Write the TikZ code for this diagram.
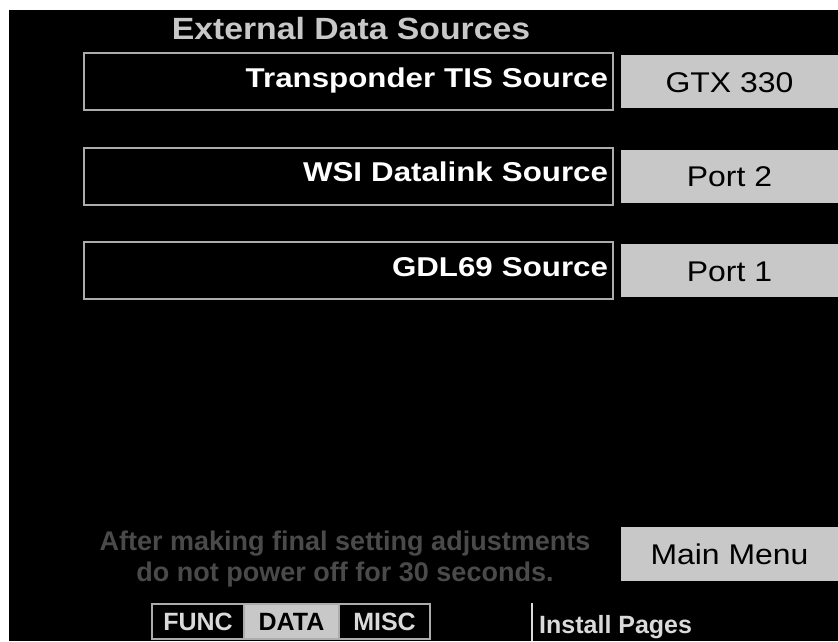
\documentclass[tikz,border=0pt]{standalone}
\usepackage{fontspec}
\setmainfont{Liberation Sans}
\newfontfamily\srcfont[FakeStretch=1.15]{Liberation Sans}
\newfontfamily\titlefont[FakeStretch=1.10]{Liberation Sans}
\newfontfamily\btnfont[FakeStretch=1.12]{Liberation Sans}
\usetikzlibrary{positioning}
\definecolor{panelgrey}{RGB}{200,200,200}
\definecolor{rimgrey}{RGB}{172,172,172}
\definecolor{notegrey}{RGB}{74,74,74}
\definecolor{tabtext}{RGB}{218,218,218}
\tikzset{
  srcbox/.style={draw=rimgrey, line width=2pt, minimum width=529pt, minimum height=57pt,
    text width=519pt, align=right, inner xsep=5pt, text=white,
    text height=19.5pt, text depth=8.5pt,
    font=\srcfont\bfseries\fontsize{27.2}{27.2}\selectfont},
  selbtn/.style={fill=panelgrey, minimum width=218pt, minimum height=53pt,
    text height=21pt, text depth=0pt,
    font=\btnfont\fontsize{28.5}{28.5}\selectfont},
  tabbox/.style={draw=rimgrey, line width=1.5pt, minimum height=35pt, outer sep=0pt,
    inner sep=0pt, text=tabtext, text height=18pt, text depth=0pt,
    font=\bfseries\fontsize{25}{25}\selectfont},
}
\begin{document}
\begin{tikzpicture}[x=1pt,y=-1pt]
\useasboundingbox (0,0) rectangle (838,641);
\fill[black] (9,10) rectangle (838,641);
% title
\node[anchor=base, inner sep=0pt, text=panelgrey, font=\titlefont\bfseries\fontsize{30.7}{30.7}\selectfont] (title) at (351,39) {External Data Sources};
% source rows
\node[srcbox] (tis) at (348.5,81.5) {Transponder TIS Source};
\node[selbtn] (tisval) at (729.5,81.5) {GTX 330};
\node[srcbox] (wsi) at (348.5,176) {WSI Datalink Source};
\node[selbtn] (wsival) at (729.5,176) {Port 2};
\node[srcbox] (gdl) at (348.5,270.5) {GDL69 Source};
\node[selbtn] (gdlval) at (729.5,270.5) {Port 1};
% bottom
\node[text=notegrey, align=center, font=\bfseries\fontsize{27}{31.5}\selectfont] (note) at (345,559)
  {After making final setting adjustments\\do not power off for 30 seconds.};
\node[selbtn, minimum height=54pt] (mainmenu) at (729.5,554) {Main Menu};
\node[tabbox, minimum width=92pt] (func) at (198,621.5) {FUNC};
\node[tabbox, minimum width=95pt, fill=panelgrey, text=black, right=0pt of func] (data) {DATA};
\node[tabbox, minimum width=91pt, right=0pt of data] (misc) {MISC};
\coordinate (divtop) at (532,603);
\draw[tabtext, line width=1.5pt] (divtop) -- ++(0,38);
\node[anchor=base west, text=tabtext, inner sep=0pt, font=\bfseries\fontsize{25}{25}\selectfont] (install) at (539,633) {Install Pages};
\end{tikzpicture}
\end{document}
